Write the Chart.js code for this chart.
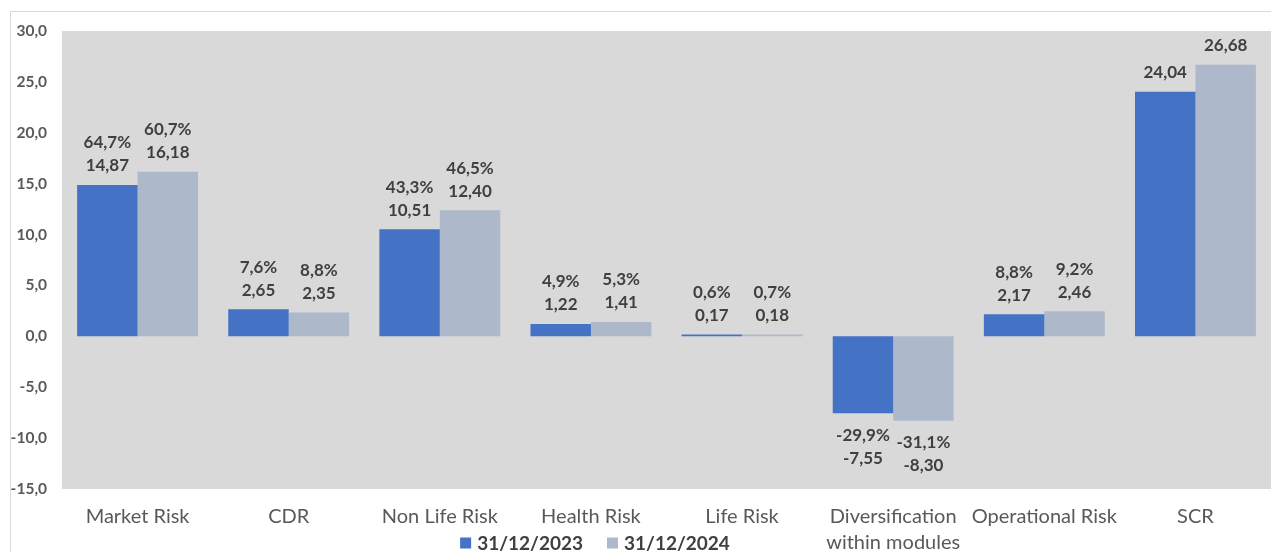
<!DOCTYPE html>
<html>
<head>
<meta charset="utf-8">
<script src="https://cdn.jsdelivr.net/npm/chart.js@4"></script>
<style>
  html, body { margin: 0; padding: 0; background: #fff; overflow: hidden; }
  #wrap { position: relative; width: 1271px; height: 552px; }
</style>
</head>
<body>
<div id="wrap"><canvas id="scrChart" width="1271" height="552"></canvas></div>
<script>
// moduli di rischio SCR (mln)
const categories = [
  'Market Risk', 'CDR', 'Non Life Risk', 'Health Risk', 'Life Risk',
  ['Diversification', 'within modules'], 'Operational Risk', 'SCR'
];
const seriesNames = ['31/12/2023', '31/12/2024'];
const values2023 = [14.87, 2.65, 10.51, 1.22, 0.17, -7.55, 2.17, 24.04];
const values2024 = [16.18, 2.35, 12.40, 1.41, 0.18, -8.30, 2.46, 26.68];
// quota percentuale sul totale (SCR senza percentuale)
const share2023 = [64.7, 7.6, 43.3, 4.9, 0.6, -29.9, 8.8, null];
const share2024 = [60.7, 8.8, 46.5, 5.3, 0.7, -31.1, 9.2, null];

const FONT = 'Lato, "Open Sans", sans-serif';
const comma = (v, d) => v.toFixed(d).replace('.', ',');

// cornice e sfondo area grafico
const frameBg = {
  id: 'frameBg',
  beforeDraw(chart) {
    const { ctx, chartArea: a } = chart;
    ctx.save();
    ctx.fillStyle = '#d9d9d9';
    ctx.fillRect(a.left, a.top, a.right - a.left, a.bottom - a.top);
    ctx.strokeStyle = '#d9d9d9';
    ctx.lineWidth = 1;
    ctx.beginPath();
    ctx.moveTo(10.5, chart.height);
    ctx.lineTo(10.5, 11.5);
    ctx.lineTo(chart.width, 11.5);
    ctx.stroke();
    ctx.restore();
  }
};

// etichette: percentuale sopra, valore sotto
const barLabels = {
  id: 'barLabels',
  afterDatasetsDraw(chart) {
    const { ctx } = chart;
    const shares = [share2023, share2024];
    ctx.save();
    ctx.font = 'bold 17px ' + FONT;
    ctx.fillStyle = '#404040';
    ctx.textAlign = 'center';
    ctx.textBaseline = 'middle';
    chart.data.datasets.forEach((ds, di) => {
      chart.getDatasetMeta(di).data.forEach((bar, i) => {
        const v = ds.data[i];
        const s = shares[di][i];
        const val = comma(v, 2);
        const pct = s === null ? null : comma(s, 1) + '%';
        if (v >= 0) {
          ctx.fillText(val, bar.x, bar.y - 19);
          if (pct) ctx.fillText(pct, bar.x, bar.y - 42);
        } else {
          if (pct) ctx.fillText(pct, bar.x, bar.y + 22);
          ctx.fillText(val, bar.x, bar.y + 45);
        }
      });
    });
    ctx.restore();
  }
};

// legenda sotto l'asse
const bottomLegend = {
  id: 'bottomLegend',
  afterDraw(chart) {
    const { ctx } = chart;
    const cy = 543, box = 11, gap = 6, space = 24;
    ctx.save();
    ctx.font = 'bold 19px ' + FONT;
    ctx.textBaseline = 'middle';
    const items = chart.data.datasets.map(ds => ({
      text: ds.label, color: ds.backgroundColor,
      w: box + gap + ctx.measureText(ds.label).width
    }));
    const total = items.reduce((s, it) => s + it.w, 0) + space * (items.length - 1);
    let x = 595 - total / 2;
    items.forEach(it => {
      ctx.fillStyle = it.color;
      ctx.fillRect(x, cy - box / 2, box, box);
      ctx.fillStyle = '#404040';
      ctx.fillText(it.text, x + box + gap, cy + 1);
      x += it.w + space;
    });
    ctx.restore();
  }
};

new Chart(document.getElementById('scrChart'), {
  type: 'bar',
  data: {
    labels: categories,
    datasets: [
      { label: seriesNames[0], data: values2023, backgroundColor: '#4472c4' },
      { label: seriesNames[1], data: values2024, backgroundColor: '#adb9ca' }
    ]
  },
  options: {
    responsive: false,
    animation: false,
    events: [],
    layout: { padding: { left: 10, top: 31, right: 0, bottom: 0 } },
    datasets: { bar: { categoryPercentage: 0.8, barPercentage: 1 } },
    plugins: { legend: { display: false }, tooltip: { enabled: false } },
    scales: {
      x: {
        grid: { display: false, drawTicks: false },
        border: { display: false },
        ticks: {
          color: '#595959',
          font: { family: FONT, size: 20, lineHeight: 1.3 },
          padding: 15,
          maxRotation: 0,
          autoSkip: false
        },
        afterFit(scale) { scale.height = 63; }
      },
      y: {
        min: -15,
        max: 30,
        grid: { display: false, drawTicks: false },
        border: { display: false },
        ticks: {
          stepSize: 5,
          color: '#595959',
          font: { family: FONT, size: 15.5, weight: 'bold' },
          padding: 15,
          callback: v => comma(v, 1)
        },
        afterFit(scale) { scale.width = 52; }
      }
    }
  },
  plugins: [frameBg, barLabels, bottomLegend]
});
</script>
</body>
</html>
